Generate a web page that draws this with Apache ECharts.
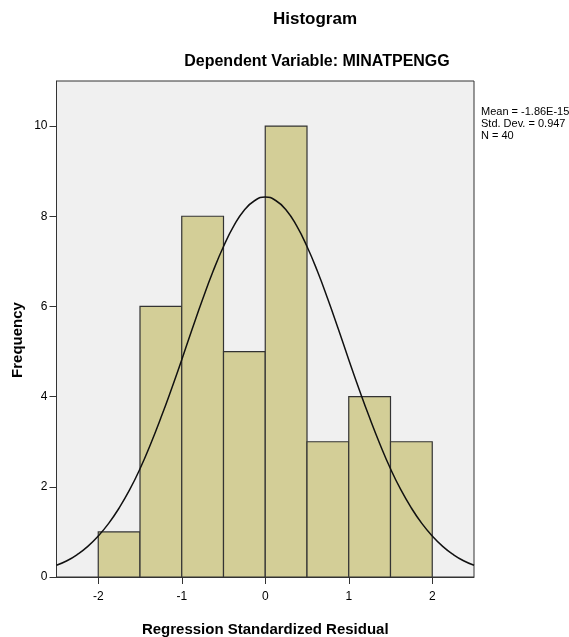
<!DOCTYPE html>
<html>
<head>
<meta charset="utf-8">
<script src="https://cdn.jsdelivr.net/npm/echarts@6/dist/echarts.min.js"></script>
<style>
  html, body { margin: 0; padding: 0; background: #fff; }
  #main { width: 569px; height: 637px; }
</style>
</head>
<body>
<div id="main"></div>
<script>
// bins of the histogram: [start, end, frequency]
var binStart = [-2, -1.5, -1, -0.5, 0, 0.5, 1, 1.5];
var binEnd = [-1.5, -1, -0.5, 0, 0.5, 1, 1.5, 2];
var frequency = [1, 6, 8, 5, 10, 3, 4, 3];

// normal curve
var curveX = [-2.5, -2.375, -2.25, -2.125, -2, -1.875, -1.75, -1.625, -1.5, -1.375,
  -1.25, -1.125, -1, -0.875, -0.75, -0.625, -0.5, -0.375, -0.25, -0.125, 0,
  0.125, 0.25, 0.375, 0.5, 0.625, 0.75, 0.875, 1, 1.125, 1.25,
  1.375, 1.5, 1.625, 1.75, 1.875, 2, 2.125, 2.25, 2.375, 2.5];
var curveY = [0.26, 0.36, 0.50, 0.68, 0.91, 1.19, 1.53, 1.93, 2.40, 2.94,
  3.53, 4.16, 4.82, 5.50, 6.16, 6.78, 7.33, 7.79, 8.14, 8.35, 8.43,
  8.35, 8.14, 7.79, 7.33, 6.78, 6.16, 5.50, 4.82, 4.16, 3.53,
  2.94, 2.40, 1.93, 1.53, 1.19, 0.91, 0.68, 0.50, 0.36, 0.26];

var xTicks = [-2, -1, 0, 1, 2];
var yTicks = [0, 2, 4, 6, 8, 10];
var statsLines = ['Mean = -1.86E-15', 'Std. Dev. = 0.947', 'N = 40'];

var chart = echarts.init(document.getElementById('main'), null, { renderer: 'canvas' });

var barData = [];
for (var i = 0; i < frequency.length; i++) {
  barData.push([binStart[i], binEnd[i], frequency[i]]);
}
var curveData = [];
for (var j = 0; j < curveX.length; j++) {
  curveData.push([curveX[j], curveY[j]]);
}

var font = 'Liberation Sans, Arial, sans-serif';

var option = {
  backgroundColor: '#ffffff',
  animation: false,
  title: [
    {
      text: 'Histogram', left: 310, top: 6, textAlign: 'center',
      textStyle: { fontFamily: font, fontSize: 17, fontWeight: 'bold', color: '#000' }
    },
    {
      text: 'Dependent Variable: MINATPENGG', left: 312, top: 49, textAlign: 'center',
      textStyle: { fontFamily: font, fontSize: 16, fontWeight: 'bold', color: '#000' }
    }
  ],
  graphic: [
    {
      type: 'text', left: 481, top: 106,
      style: {
        text: statsLines.join('\n'), fontFamily: font, fontSize: 11,
        lineHeight: 12, fill: '#000'
      }
    },
    {
      type: 'text', x: 18, y: 340, rotation: Math.PI / 2,
      style: {
        text: 'Frequency', fontFamily: font, fontSize: 15, fontWeight: 'bold',
        fill: '#000', align: 'center', verticalAlign: 'middle'
      }
    }
  ],
  grid: {
    left: 56.5, right: 95, top: 81, bottom: 60,
    outerBoundsMode: 'none', containLabel: false,
    show: true, backgroundColor: '#f0f0f0', borderColor: '#333', borderWidth: 1
  },
  xAxis: {
    type: 'value', min: -2.5, max: 2.5,
    name: 'Regression Standardized Residual', nameLocation: 'middle', nameGap: 45,
    nameTextStyle: { fontFamily: font, fontSize: 15, fontWeight: 'bold', color: '#000' },
    axisLine: { show: true, onZero: false, lineStyle: { color: '#333', width: 1 } },
    axisTick: { show: true, length: 7, customValues: xTicks, lineStyle: { color: '#333' } },
    axisLabel: { customValues: xTicks, fontFamily: font, fontSize: 12, color: '#000', margin: 14 },
    splitLine: { show: false }
  },
  yAxis: {
    type: 'value', min: 0, max: 11,
    axisLine: { show: true, onZero: false, lineStyle: { color: '#333', width: 1 } },
    axisTick: { show: true, length: 7, customValues: yTicks, lineStyle: { color: '#333' } },
    axisLabel: { customValues: yTicks, fontFamily: font, fontSize: 12, color: '#000', margin: 9 },
    splitLine: { show: false }
  },
  series: [
    {
      type: 'custom',
      data: barData,
      encode: { x: [0, 1], y: 2 },
      z: 2,
      renderItem: function (params, api) {
        var p0 = api.coord([api.value(0), 0]);
        var p1 = api.coord([api.value(1), api.value(2)]);
        return {
          type: 'rect',
          shape: { x: p0[0], y: p1[1], width: p1[0] - p0[0], height: p0[1] - p1[1] },
          style: { fill: '#d3ce97', stroke: '#333', lineWidth: 1.2 }
        };
      }
    },
    {
      type: 'line',
      data: curveData,
      smooth: true,
      symbol: 'none',
      z: 3,
      lineStyle: { color: '#111', width: 1.5 }
    }
  ]
};

chart.setOption(option);
</script>
</body>
</html>
